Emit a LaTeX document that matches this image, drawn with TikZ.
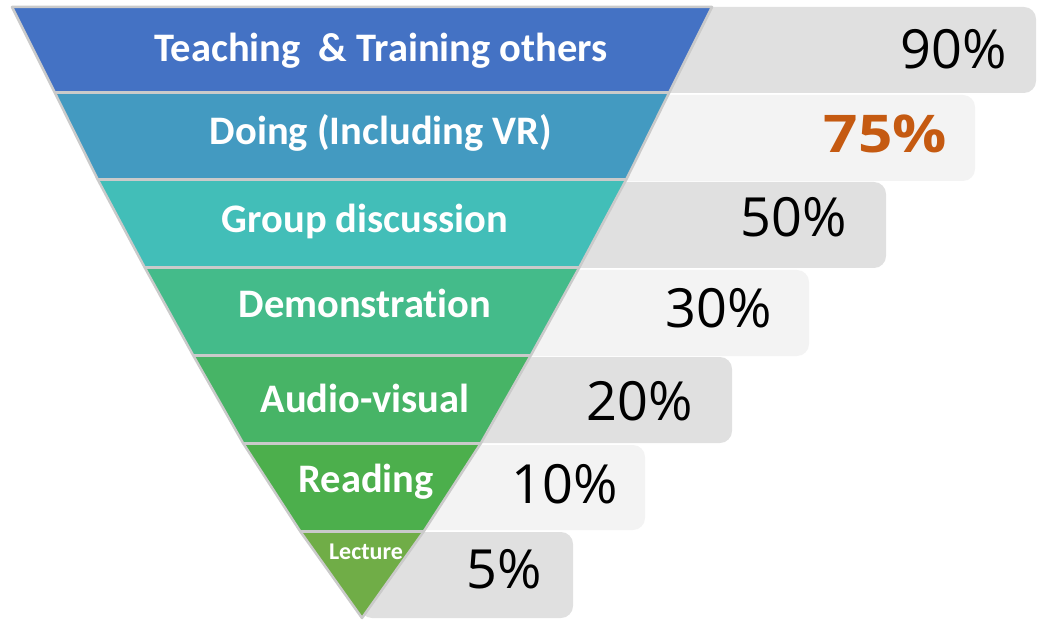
\documentclass[tikz,border=0pt]{standalone}
\usepackage{fontspec}
\newfontfamily\labelfont{Carlito}[Ligatures=NoCommon]
\newfontfamily\pctfont{Open Sans}

\definecolor{bandA}{HTML}{4472C4}
\definecolor{bandB}{HTML}{439AC1}
\definecolor{bandC}{HTML}{42BEB8}
\definecolor{bandD}{HTML}{44BB8A}
\definecolor{bandE}{HTML}{47B466}
\definecolor{bandF}{HTML}{4CAF4C}
\definecolor{bandG}{HTML}{70AD47}
\definecolor{edgegray}{HTML}{CACACA}
\definecolor{boxdark}{HTML}{E0E0E0}
\definecolor{boxlight}{HTML}{F3F3F3}
\definecolor{hiorange}{HTML}{C55A11}

\tikzset{
  barbox/.style={rounded corners=12pt},
  lbl/.style={inner sep=0pt, anchor=base, text=white, font=\labelfont\bfseries\fontsize{40.5}{48}\selectfont},
  pct/.style={inner sep=0pt, anchor=base east, text=black, font=\pctfont\fontsize{54}{64}\selectfont},
  sep/.style={draw=edgegray, line width=3pt},
  outline/.style={draw=edgegray, line width=2.5pt, line join=round}
}

\begin{document}
\begin{tikzpicture}[x=1pt,y=-1pt]
  \useasboundingbox (0,0) rectangle (1038,620);

  % left and right edges of the inverted pyramid
  \coordinate (L0) at (12,7);   \coordinate (R0) at (712,7);
  \coordinate (L1) at (55,93);  \coordinate (R1) at (669,93);
  \coordinate (L2) at (98,180); \coordinate (R2) at (626,180);
  \coordinate (L3) at (145,268);\coordinate (R3) at (579,268);
  \coordinate (L4) at (193,355);\coordinate (R4) at (531,355);
  \coordinate (L5) at (243,443);\coordinate (R5) at (481,443);
  \coordinate (L6) at (300,531);\coordinate (R6) at (424,531);
  \coordinate (A)  at (362,618);

  % percentage bars behind the pyramid
  \fill[boxdark,  barbox] (360,7)   rectangle (1036,93);
  \fill[boxlight, barbox] (360,95)  rectangle (975,181);
  \fill[boxdark,  barbox] (360,182) rectangle (886,268);
  \fill[boxlight, barbox] (360,270) rectangle (809,356);
  \fill[boxdark,  barbox] (360,357) rectangle (732,443);
  \fill[boxlight, barbox] (360,445) rectangle (645,530);
  \fill[boxdark,  barbox] (360,532) rectangle (573,618);

  % pyramid bands
  \fill[bandA] (L0) -- (R0) -- (R1) -- (L1) -- cycle;
  \fill[bandB] (L1) -- (R1) -- (R2) -- (L2) -- cycle;
  \fill[bandC] (L2) -- (R2) -- (R3) -- (L3) -- cycle;
  \fill[bandD] (L3) -- (R3) -- (R4) -- (L4) -- cycle;
  \fill[bandE] (L4) -- (R4) -- (R5) -- (L5) -- cycle;
  \fill[bandF] (L5) -- (R5) -- (R6) -- (L6) -- cycle;
  \fill[bandG] (L6) -- (R6) -- (A) -- cycle;

  % band separators and outline
  \foreach \i in {1,...,6} { \draw[sep] (L\i) -- (R\i); }
  \draw[outline] (L0) -- (L1) -- (L2) -- (L3) -- (L4) -- (L5) -- (L6) -- (A)
                 -- (R6) -- (R5) -- (R4) -- (R3) -- (R2) -- (R1) -- (R0) -- cycle;

  % band labels
  \node[lbl] (t1) at (381,62)  {Teaching\ \ \& Training others};
  \node[lbl] (t2) at (381,145) {Doing (Including VR)};
  \node[lbl] (t3) at (365,233) {Group discussion};
  \node[lbl] (t4) at (365,317) {Demonstration};
  \node[lbl] (t5) at (365,412) {Audio-visual};
  \node[lbl] (t6) at (366,492) {Reading};
  \node[lbl, font=\labelfont\bfseries\fontsize{24}{29}\selectfont] (t7) at (366,559) {Lecture};

  % retention percentages
  \node[pct] (p1) at (1007,69) {90\%};
  \node[pct, text=hiorange, font=\pctfont\bfseries\fontsize{52}{62}\selectfont] (p2) at (947,153) {\scalebox{1.16}[1]{75\%}};
  \node[pct] (p3) at (847,237) {50\%};
  \node[pct] (p4) at (772,327) {30\%};
  \node[pct] (p5) at (693,420) {20\%};
  \node[pct] (p6) at (618,503) {10\%};
  \node[pct] (p7) at (542,588) {5\%};
\end{tikzpicture}
\end{document}
